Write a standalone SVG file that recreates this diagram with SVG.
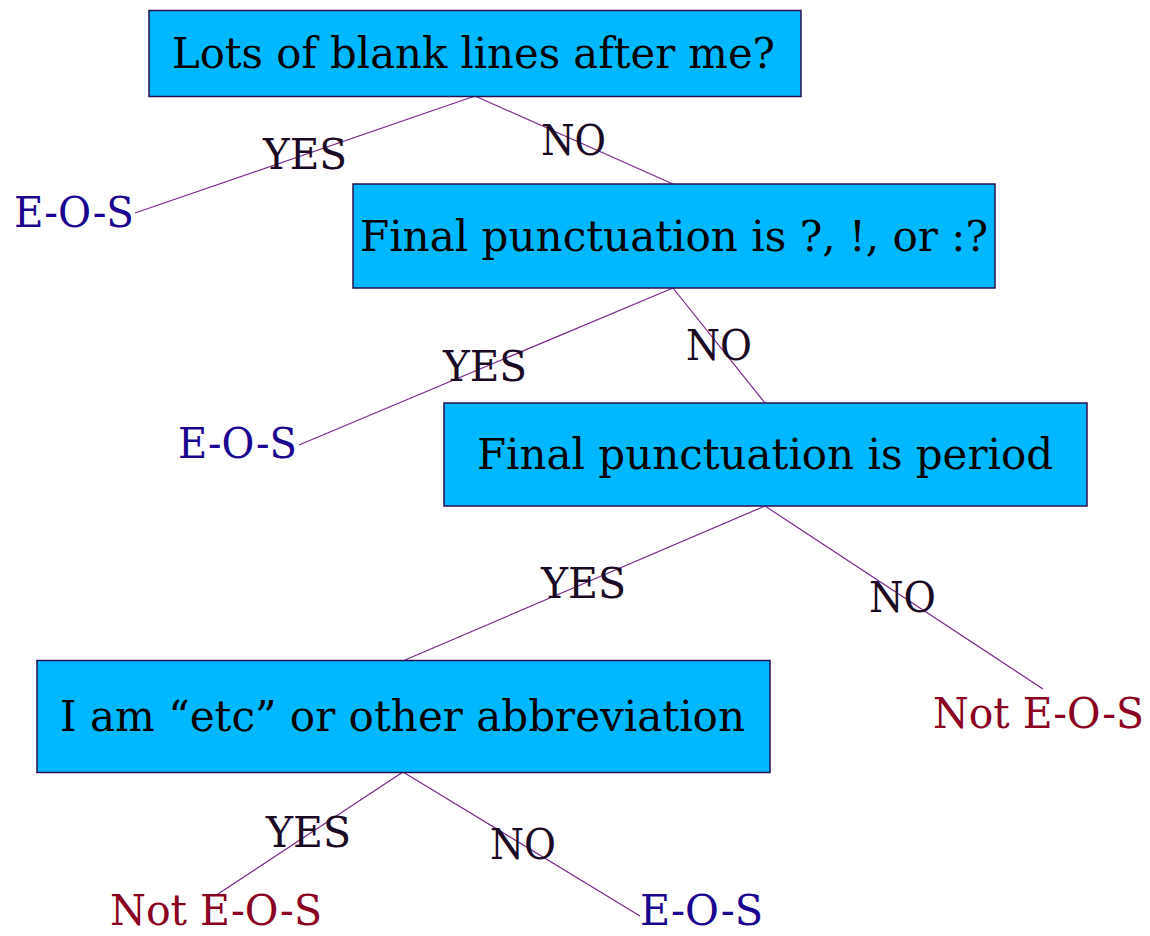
<svg xmlns="http://www.w3.org/2000/svg" width="1150" height="936" viewBox="0 0 1150 936">
<style>
text{font-family:"DejaVu Serif Condensed","DejaVu Serif","Liberation Serif",serif;font-size:42px}
.box{fill:#00b8ff;stroke:#2a1050;stroke-width:1.5}
.q{fill:#000}
.lbl{fill:#1a0a24}
.eos{fill:#1a0590}
.not{fill:#8a0020}
.c line{stroke:#7a2a8a;stroke-width:1.2}
</style>
<rect width="1150" height="936" fill="#fff"/>
<g class="c" id="connectors">
<line x1="475" y1="96" x2="135" y2="213"/>
<line x1="475" y1="96" x2="673" y2="184"/>
<line x1="673" y1="288" x2="299" y2="445"/>
<line x1="673" y1="288" x2="765" y2="403"/>
<line x1="765" y1="506" x2="405" y2="660"/>
<line x1="765" y1="506" x2="1043" y2="689"/>
<line x1="403" y1="772" x2="218" y2="894"/>
<line x1="403" y1="772" x2="640" y2="916"/>
<text class="lbl" x="263" y="169" textLength="84" lengthAdjust="spacingAndGlyphs">YES</text>
<text class="lbl" x="541" y="155" textLength="65" lengthAdjust="spacingAndGlyphs">NO</text>
<text class="lbl" x="443" y="381" textLength="84" lengthAdjust="spacingAndGlyphs">YES</text>
<text class="lbl" x="686" y="360" textLength="66" lengthAdjust="spacingAndGlyphs">NO</text>
<text class="lbl" x="541" y="598" textLength="85" lengthAdjust="spacingAndGlyphs">YES</text>
<text class="lbl" x="869" y="612" textLength="67" lengthAdjust="spacingAndGlyphs">NO</text>
<text class="lbl" x="266" y="847" textLength="85" lengthAdjust="spacingAndGlyphs">YES</text>
<text class="lbl" x="490" y="859" textLength="66" lengthAdjust="spacingAndGlyphs">NO</text>
</g>
<g id="n1"><rect class="box" x="149" y="10.5" width="652" height="86"/>
<text class="q" x="172" y="68" textLength="603" lengthAdjust="spacingAndGlyphs">Lots of blank lines after me?</text></g>
<g id="n2"><rect class="box" x="353" y="184" width="642" height="104"/>
<text class="q" x="360" y="251" textLength="628" lengthAdjust="spacingAndGlyphs">Final punctuation is ?, !, or :?</text></g>
<g id="n3"><rect class="box" x="444" y="403" width="643" height="103"/>
<text class="q" x="477" y="469" textLength="576" lengthAdjust="spacingAndGlyphs">Final punctuation is period</text></g>
<g id="n4"><rect class="box" x="37" y="660.5" width="733" height="112"/>
<text class="q" x="60" y="731" textLength="685" lengthAdjust="spacingAndGlyphs">I am “etc” or other abbreviation</text></g>
<g id="leaf1"><text class="eos" x="14" y="227" textLength="120" lengthAdjust="spacingAndGlyphs">E-O-S</text></g>
<g id="leaf2"><text class="eos" x="178" y="458" textLength="119" lengthAdjust="spacingAndGlyphs">E-O-S</text></g>
<g id="leaf3"><text class="not" x="933" y="728" textLength="211" lengthAdjust="spacingAndGlyphs">Not E-O-S</text></g>
<g id="leaf4"><text class="not" x="110" y="925" font-size="41" textLength="212" lengthAdjust="spacingAndGlyphs">Not E-O-S</text></g>
<g id="leaf5"><text class="eos" x="640" y="925" font-size="41" textLength="123" lengthAdjust="spacingAndGlyphs">E-O-S</text></g>
</svg>
